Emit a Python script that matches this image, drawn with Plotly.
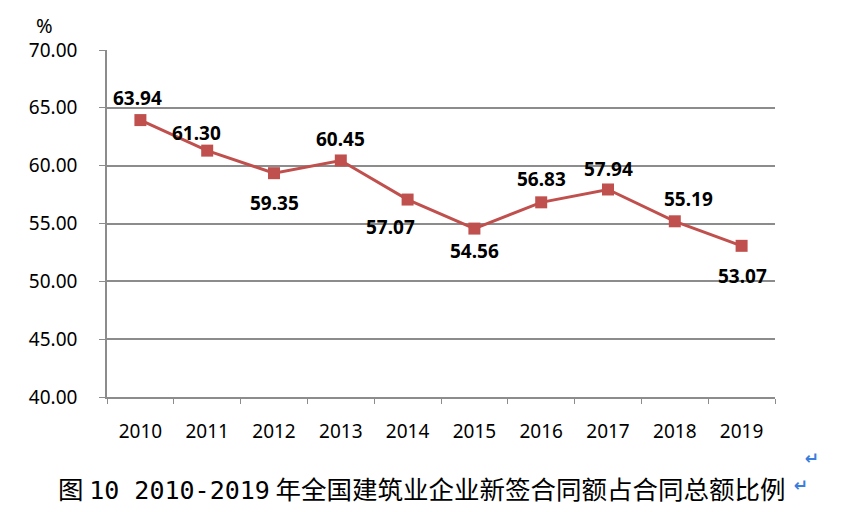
import plotly.graph_objects as go

years = ["2010", "2011", "2012", "2013", "2014", "2015", "2016", "2017", "2018", "2019"]
share = [63.94, 61.30, 59.35, 60.45, 57.07, 54.56, 56.83, 57.94, 55.19, 53.07]
y_ticks = [40, 45, 50, 55, 60, 65, 70]
caption_head = "图"
caption_num = "10 2010-2019"
caption_tail = "年全国建筑业企业新签合同额占合同总额比例"

# label offsets in px (x, y) relative to each point
label_shift = [(-3, 22), (-11, 18), (0, -30), (0, 21), (-17, -27),
               (0, -22), (0, 23), (0, 20), (14, 22), (1, -30)]

RED = "#C0504D"
GRID = "#8C8C8C"
FONT = "Noto Sans, DejaVu Sans, sans-serif"

fig = go.Figure()
fig.add_trace(go.Scatter(
    x=years, y=share,
    mode="lines+markers",
    line=dict(color=RED, width=3),
    marker=dict(symbol="square", size=12, color=RED),
    showlegend=False,
))

# category axis: annotate by category index
for i, (v, (dx, dy)) in enumerate(zip(share, label_shift)):
    fig.add_annotation(
        x=i, y=v, text=f"<b>{v:.2f}</b>", showarrow=False,
        xshift=dx, yshift=dy,
        font=dict(family=FONT, size=19, color="black"),
    )

fig.add_annotation(
    xref="paper", yref="paper", x=-0.093, y=1.07, xanchor="center", yanchor="middle",
    text="%", showarrow=False, font=dict(family=FONT, size=20, color="black"),
)
caption = (caption_head
           + f" <span style='font-family:DejaVu Sans Mono;font-size:25px'>{caption_num}</span> "
           + caption_tail)
fig.add_annotation(
    xref="paper", yref="paper", x=0.472, y=-0.262, xanchor="center", yanchor="middle",
    text=caption, showarrow=False,
    font=dict(family="Noto Sans CJK SC, sans-serif", size=25.5, color="black"),
)
fig.add_annotation(
    xref="paper", yref="paper", x=1.055, y=-0.176, xanchor="center", yanchor="middle",
    text="<b>↵</b>", showarrow=False, font=dict(family="DejaVu Sans", size=17, color="#3B7DDD"),
)
fig.add_annotation(
    xref="paper", yref="paper", x=1.039, y=-0.254, xanchor="center", yanchor="middle",
    text="<b>↵</b>", showarrow=False, font=dict(family="DejaVu Sans", size=17, color="#3B7DDD"),
)

fig.update_xaxes(
    type="category", range=[-0.5, len(years) - 0.5],
    tickson="boundaries", ticks="outside", ticklen=5, tickangle=0,
    tickcolor=GRID, showgrid=False, showline=True, linecolor=GRID, linewidth=1.5,
    tickfont=dict(family=FONT, size=19, color="black"),
    ticklabelstandoff=16,
)
fig.update_yaxes(
    range=[40, 70], tickvals=y_ticks, ticktext=[f"{t:.2f}" for t in y_ticks],
    ticks="outside", ticklen=6, tickcolor=GRID,
    showgrid=True, gridcolor=GRID, gridwidth=1.5,
    showline=True, linecolor=GRID, linewidth=1.5, zeroline=False,
    tickfont=dict(family=FONT, size=19, color="black"),
    ticklabelstandoff=18,
)
fig.update_layout(
    width=850, height=512,
    margin=dict(l=99, r=83, t=42, b=123),
    plot_bgcolor="white", paper_bgcolor="white",
)

fig.write_html("out.html")
